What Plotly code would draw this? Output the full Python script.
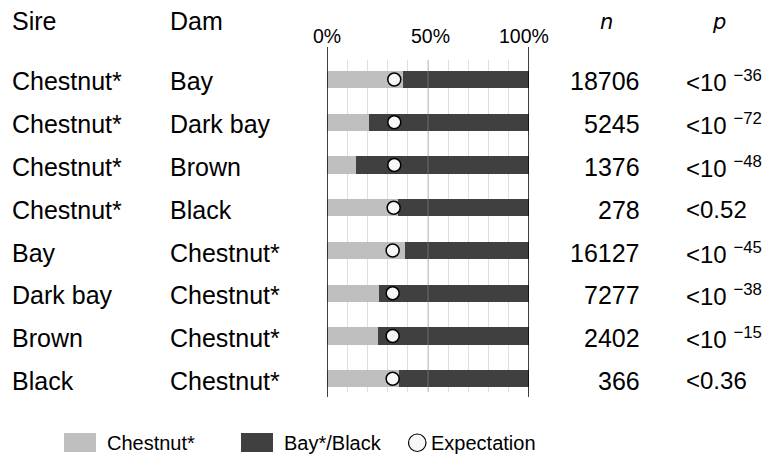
import plotly.graph_objects as go

sires = ["Chestnut*", "Chestnut*", "Chestnut*", "Chestnut*", "Bay", "Dark bay", "Brown", "Black"]
dams = ["Bay", "Dark bay", "Brown", "Black", "Chestnut*", "Chestnut*", "Chestnut*", "Chestnut*"]
chestnut_pct = [37.5, 20.9, 14.2, 35.0, 38.8, 25.9, 25.1, 35.6]
expectation_pct = [33.3, 33.3, 33.3, 33.0, 32.5, 32.5, 32.5, 32.5]
n_values = [18706, 5245, 1376, 278, 16127, 7277, 2402, 366]
p_labels = ["<10 <sup>\u221236</sup>", "<10 <sup>\u221272</sup>", "<10 <sup>\u221248</sup>", "<0.52",
            "<10 <sup>\u221245</sup>", "<10 <sup>\u221238</sup>", "<10 <sup>\u221215</sup>", "<0.36"]
tick_vals = [0, 50, 100]
tick_text = ["0%", "50%", "100%"]

bay_pct = [100 - c for c in chestnut_pct]
rows = list(range(len(sires)))

W, H = 763, 458
LIGHT = "#bfbfbf"
DARK = "#404040"
FONT = "Liberation Sans, Arial, Helvetica, sans-serif"

fig = go.Figure()
fig.add_trace(go.Bar(y=rows, x=chestnut_pct, orientation="h", marker=dict(color=LIGHT, line=dict(width=0)),
                     width=0.405, name="Chestnut*", showlegend=False))
fig.add_trace(go.Bar(y=rows, x=bay_pct, base=chestnut_pct, orientation="h",
                     marker=dict(color=DARK, line=dict(width=0)), width=0.405, name="Bay*/Black", showlegend=False))
fig.add_trace(go.Scatter(y=rows, x=expectation_pct, mode="markers",
                         marker=dict(size=13, color="#f7f7f7", line=dict(color="black", width=1.5)),
                         name="Expectation", showlegend=False, cliponaxis=False))

def py(p):
    return 1 - p / H

def px(p):
    return p / W

ann = []
font = dict(family=FONT, size=25, color="black")
pfont = dict(family=FONT, size=24, color="black")
# headers
ann.append(dict(text="Sire", x=px(10), y=py(21), xref="paper", yref="paper", xanchor="left", yanchor="middle",
                showarrow=False, font=font))
ann.append(dict(text="Dam", x=px(168), y=py(21), xref="paper", yref="paper", xanchor="left", yanchor="middle",
                showarrow=False, font=font))
ann.append(dict(text="<i>n</i>", x=px(606), y=py(22), xref="paper", yref="paper", xanchor="center", yanchor="middle",
                showarrow=False, font=dict(family="DejaVu Sans", size=21, color="black")))
ann.append(dict(text="<i>p</i>", x=px(719), y=py(22), xref="paper", yref="paper", xanchor="center", yanchor="middle",
                showarrow=False, font=dict(family="DejaVu Sans", size=21, color="black")))
tick_shift = [0, 2, -5]
for v, t, s in zip(tick_vals, tick_text, tick_shift):
    ann.append(dict(text=t, x=v, y=py(36), xref="x", yref="paper", xanchor="center", yanchor="middle",
                    xshift=s, showarrow=False, font=dict(family=FONT, size=19.5, color="black")))
for i in rows:
    ann.append(dict(text=sires[i], x=px(10), y=i, xref="paper", yref="y", xanchor="left", yanchor="middle",
                    yshift=-2, showarrow=False, font=font))
    ann.append(dict(text=dams[i], x=px(168), y=i, xref="paper", yref="y", xanchor="left", yanchor="middle",
                    yshift=-2, showarrow=False, font=font))
    ann.append(dict(text=str(n_values[i]), x=px(642), y=i, xref="paper", yref="y", xanchor="right", yanchor="middle",
                    yshift=-2, showarrow=False, font=font))
    ann.append(dict(text=p_labels[i], x=px(684), y=i, xref="paper", yref="y", xanchor="left", yanchor="middle",
                    yshift=-2, showarrow=False, font=pfont))

# legend (manual)
leg_font = dict(family=FONT, size=20, color="black")
shapes = []
shapes.append(dict(type="rect", xref="paper", yref="paper", x0=px(64), x1=px(96), y0=py(452), y1=py(433),
                   fillcolor=LIGHT, line=dict(width=0)))
shapes.append(dict(type="rect", xref="paper", yref="paper", x0=px(241), x1=px(273), y0=py(452), y1=py(433),
                   fillcolor=DARK, line=dict(width=0)))
shapes.append(dict(type="circle", xref="paper", yref="paper", x0=px(408.5), x1=px(426), y0=py(451.5), y1=py(434),
                   fillcolor="#f7f7f7", line=dict(color="black", width=1.2)))
ann.append(dict(text="Chestnut*", x=px(105), y=py(443), xref="paper", yref="paper", xanchor="left",
                yanchor="middle", showarrow=False, font=leg_font))
ann.append(dict(text="Bay*/Black", x=px(282), y=py(443), xref="paper", yref="paper", xanchor="left",
                yanchor="middle", showarrow=False, font=leg_font))
ann.append(dict(text="Expectation", x=px(429), y=py(443), xref="paper", yref="paper", xanchor="left",
                yanchor="middle", showarrow=False, font=leg_font))

# axis frame lines at 0% and 100%, and 50% line over bars
for v in (0, 100):
    shapes.append(dict(type="line", xref="x", yref="paper", x0=v, x1=v, y0=py(397), y1=py(47),
                       line=dict(color="black", width=1.5), layer="above"))
shapes.append(dict(type="line", xref="x", yref="paper", x0=50, x1=50, y0=py(392), y1=py(60),
                   line=dict(color="rgba(150,150,150,0.45)", width=1.2), layer="above"))

# y mapping: row i center pixel = 79.5 + 42.75*i ; domain from pixel 60 to 392
top_px, bot_px = 60, 392
y_top = (top_px - 79.5) / 42.75
y_bot = (bot_px - 79.5) / 42.75

fig.update_layout(
    width=W, height=H,
    margin=dict(l=0, r=0, t=0, b=0),
    plot_bgcolor="white", paper_bgcolor="white",
    barmode="overlay", bargap=0,
    showlegend=False,
    xaxis=dict(domain=[327 / W, 529 / W], range=[0, 100], dtick=10, tick0=0, showgrid=True,
               gridcolor="#dedede", gridwidth=1, showticklabels=False, zeroline=False, showline=False,
               fixedrange=True),
    yaxis=dict(domain=[py(bot_px), py(top_px)], range=[y_bot, y_top], showgrid=False, showticklabels=False,
               zeroline=False, showline=False, fixedrange=True),
    annotations=ann,
    shapes=shapes,
)

fig.write_html("out.html", config={"displayModeBar": False},
               post_script="document.body.style.margin='0';document.body.style.overflow='hidden';")
